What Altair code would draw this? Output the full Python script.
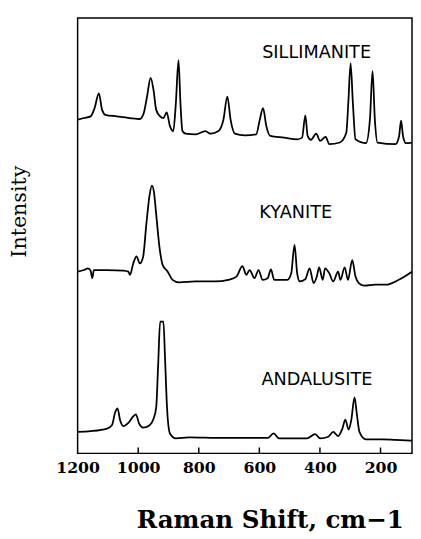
import altair as alt
import pandas as pd

# Raman shift (cm-1) and intensity (arbitrary units, offset stacks)
sil_x = [1200, 1178.7, 1157.1, 1144.1, 1130, 1119.2, 1108.4, 1070.5, 1027.2, 994.7, 981.7, 970.9, 959, 949.3,
         940.6, 927.6, 916.8, 906, 895.2, 884.3, 875.7, 867, 860.5, 854, 843.2, 810.7, 778.3, 762, 735, 718.7,
         705.7, 695, 680.9, 648.4, 610.5, 598.6, 587.8, 577, 564, 518.5, 475.2, 459, 448.2, 440.6, 429.8, 412.5,
         399.5, 381.1, 369.2, 334.5, 313, 306.4, 298.8, 291.2, 282.6, 248, 235, 226.3, 218.7, 210, 150.5, 138.6,
         132.1, 125.7, 115.9, 96.4]
sil_y = [340.3, 342, 343.7, 352, 367, 350.3, 345.3, 343.7, 342, 341, 347, 363.7, 383, 370.3,
         350.3, 343.7, 342, 347.7, 333.7, 328.7, 357, 401, 357, 328.7, 326, 325.3, 328.7, 326, 328.7, 340.3,
         363.7, 340.3, 326, 324.3, 325.3, 340.3, 352, 333.7, 323.7, 322, 320.3, 322, 344.7, 323.7, 319.7, 326,
         318.7, 322.7, 315.3, 317, 327, 357, 397.7, 357, 320.3, 316.3, 340.3, 389.7, 340.3, 317, 315.3, 323.7,
         339.3, 323.7, 316.3, 317]

kya_x = [1200, 1178.7, 1165.7, 1157.1, 1151.7, 1146.2, 1102.9, 1048.8, 1032.6, 1027.2, 1016.4, 1005.6, 994.7,
         983.9, 973.1, 962.3, 954.7, 948.2, 940.6, 929.8, 919, 902.7, 886.5, 864.9, 810.7, 745.8, 702.5, 675.5,
         656, 643, 632.2, 615.9, 602.9, 588.9, 572.6, 561.8, 551, 507.7, 494.7, 483.9, 475.2, 466.6, 448.2, 434.1,
         421.1, 410.3, 402.7, 390.8, 383.2, 369.2, 356.2, 340, 332.4, 318.3, 307.5, 293.4, 282.6, 271.7, 253.4,
         215.4, 183, 139.7, 96.4]
kya_y = [185.3, 187, 188.7, 186.3, 178.7, 187, 187, 186.3, 185.3, 182, 193.7, 201, 193.7,
         200.3, 233.7, 263.7, 273, 267, 243.7, 210.3, 192, 185.3, 177, 174.3, 175.3, 175.3, 177, 180.3,
         191, 182, 187, 178.7, 187, 177, 178.7, 187.7, 177, 177, 183.7, 212.7, 183.7, 175.3, 177.7, 188.7,
         173.7, 180.3, 189.7, 177, 188.7, 183.7, 175.3, 185.3, 177, 189.7, 177, 197, 180.3, 173.7, 171,
         172, 172, 177, 185.3]

and_x = [1200, 1157.1, 1102.9, 1086.7, 1075.9, 1068.3, 1059.7, 1048.8, 1032.6, 1016.4, 1007.7, 996.9, 983.9,
         962.3, 949.3, 940.6, 934.1, 927.6, 916.8, 911.4, 904.9, 895.2, 875.7, 832.4, 724.2, 572.6, 553.1, 534.8,
         443, 415.7, 399.5, 372.4, 356.2, 339.9, 325.9, 316.1, 305.3, 296.7, 285.8, 278.2, 269.6, 248, 193.8,
         150.5, 96.4]
and_y = [22, 22.7, 25.3, 28.7, 42, 46, 33.7, 27.7, 31, 37.7, 39.7, 30.3, 26.3,
         28.7, 35.3, 47, 90.3, 134.3, 134.3, 97, 47, 20.3, 15.3, 16.3, 15.7, 15.7, 20.3, 15.3,
         15.3, 19.7, 15.3, 17, 22, 17.7, 25.3, 34.3, 24.3, 33.7, 57, 40.3, 22, 14.3, 14.3,
         13.7, 13]

minerals = ["SILLIMANITE", "KYANITE", "ANDALUSITE"]
label_x = [411, 480, 410]
label_y = [408, 245, 75]

tick_values = [1200, 1000, 800, 600, 400, 200]

rows = []
for name, xs, ys in [(minerals[0], sil_x, sil_y), (minerals[1], kya_x, kya_y), (minerals[2], and_x, and_y)]:
    for i, (a, b) in enumerate(zip(xs, ys)):
        rows.append({"mineral": name, "shift": a, "intensity": b, "order": i})
df = pd.DataFrame(rows)

labels = pd.DataFrame({"mineral": minerals, "shift": label_x, "intensity": label_y})
ticks = pd.DataFrame({"shift": tick_values[1:]})

xscale = alt.Scale(domain=[1200, 96], nice=False, zero=False)
yscale = alt.Scale(domain=[0, 444], nice=False, zero=False)

xaxis = alt.Axis(values=tick_values, format="d", title="Raman Shift, cm\u22121", ticks=False, domain=False, grid=False,
                 labelFont="DejaVu Serif", labelFontWeight="bold", labelFontSize=16, labelColor="black",
                 labelPadding=7, labelFlush=False, labelOverlap=False,
                 titleFont="DejaVu Serif", titleFontWeight="bold", titleFontSize=25, titleColor="black",
                 titleBaseline="alphabetic", titleY=76, titleX=196, titleAlign="center")
yaxis = alt.Axis(labels=False, ticks=False, domain=False, grid=False, title="Intensity",
                 titleFont="DejaVu Serif", titleFontWeight="normal", titleFontSize=21, titleColor="black",
                 titleX=-59, titleY=197, titleAngle=270, titleAlign="center", titleBaseline="middle")

lines = alt.Chart(df).mark_line(color="black", strokeWidth=1.8, strokeJoin="round",
                                interpolate="monotone").encode(
    x=alt.X("shift:Q", scale=xscale, axis=xaxis),
    y=alt.Y("intensity:Q", scale=yscale, axis=yaxis),
    detail="mineral:N",
    order="order:Q",
)

text = alt.Chart(labels).mark_text(font="DejaVu Sans", fontSize=18, color="black",
                                   align="center", baseline="middle").encode(
    x=alt.X("shift:Q", scale=xscale),
    y=alt.Y("intensity:Q", scale=yscale),
    text="mineral:N",
)

tickmarks = alt.Chart(ticks).mark_rule(color="black", strokeWidth=1.5).encode(
    x=alt.X("shift:Q", scale=xscale),
    y=alt.value(438),
    y2=alt.value(444),
)

chart = alt.layer(lines, text, tickmarks).properties(
    width=341, height=444,
    autosize="none",
    padding={"left": 71, "top": 5, "right": 1, "bottom": 76},
    background="white",
).configure_view(stroke="black", strokeWidth=1.5)

chart.save("out.html", embed_options={"renderer": "svg", "actions": False})
